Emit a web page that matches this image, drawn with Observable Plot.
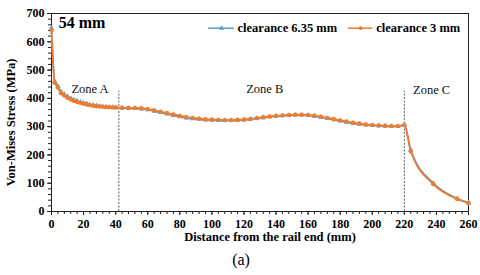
<!DOCTYPE html>
<html>
<head>
<meta charset="utf-8">
<script src="https://cdn.jsdelivr.net/npm/d3@7"></script>
<script src="https://cdn.jsdelivr.net/npm/@observablehq/plot@0.6"></script>
<style>
  html, body { margin: 0; padding: 0; background: #fff; }
  #chart { width: 480px; height: 275px; }
  #chart svg, #chart svg text { font-family: "Liberation Serif", "Times New Roman", serif !important; }
</style>
</head>
<body>
<div id="chart"></div>
<script>
// ---- data ----
const distance = [0, 2, 4, 6, 8, 10, 12, 14, 16, 18, 20, 22, 24, 26, 28, 30, 32, 34, 36, 38, 40,
  44, 48, 52, 56, 60, 64, 68, 72, 76, 80, 84, 88, 92, 96, 100, 104, 108, 112, 116, 120,
  124, 128, 132, 136, 140, 144, 148, 152, 156, 160, 164, 168, 172, 176, 180, 184, 188, 192,
  196, 200, 204, 208, 212, 216, 220, 224, 238, 253, 260];
const stress3 = [640, 455, 438, 418, 410, 402, 396, 391, 387, 384, 381, 378, 376, 374, 372, 371, 370, 369, 369, 368, 368,
  367, 366, 366, 365, 362, 358, 353, 348, 343, 338, 334, 331, 328, 326, 325, 324, 323, 323, 324, 325,
  327, 330, 333, 336, 338, 340, 341, 342, 342, 341, 339, 335, 331, 327, 322, 318, 314, 311,
  308, 306, 304, 303, 302, 302, 305, 213, 97, 44, 30];
const stress635 = [648, 460, 443, 423, 414, 406, 400, 395, 391, 387, 384, 381, 378, 376, 374, 372, 371, 370, 369, 368, 367,
  366, 365, 364, 363, 360, 355, 350, 345, 340, 335, 331, 328, 326, 324, 323, 322, 322, 322, 323, 324,
  326, 329, 332, 335, 337, 339, 340, 341, 341, 340, 337, 333, 329, 325, 320, 316, 312, 309,
  306, 304, 303, 302, 301, 301, 306, 218, 100, 46, 31];
const seriesNames = ["clearance 6.35 mm", "clearance 3 mm"];
const zoneNames = ["Zone A", "Zone B", "Zone C"];
const zoneBounds = [42, 220];
const xTicks = d3.range(0, 261, 20);
const yTicks = d3.range(0, 701, 100);
const panelLabel = "54 mm";
const xLabel = "Distance from the rail end (mm)";
const yLabel = "Von-Mises Stress (MPa)";
const caption = "(a)";

// ---- build ----
const blue = "#5B9BD5", orange = "#ED7D31";
const serif = "Liberation Serif";
const rows635 = distance.map((d, i) => ({x: d, y: stress635[i]}));
const rows3 = distance.map((d, i) => ({x: d, y: stress3[i]}));
const zonePos = [{x: 24, y: 432}, {x: 133, y: 432}, {x: 237, y: 430}];
const zones = zoneNames.map((n, i) => ({name: n, ...zonePos[i]}));
const legendY = 648;
const legend = [
  {name: seriesNames[0], x1: 98, x2: 114, color: blue, symbol: "triangle"},
  {name: seriesNames[1], x1: 185, x2: 200.5, color: orange, symbol: "circle"}
];

const chart = Plot.plot({
  width: 480,
  height: 275,
  marginLeft: 51,
  marginRight: 12,
  marginTop: 13,
  marginBottom: 64,
  style: {fontFamily: serif, background: "#fff", color: "#000"},
  x: {domain: [0, 260]},
  y: {domain: [0, 700]},
  marks: [
    Plot.frame({stroke: "#222", strokeWidth: 1}),
    Plot.axisX({ticks: d3.range(0, 261, 4), tickSize: 3, text: null, label: null, stroke: "#222"}),
    Plot.axisX({ticks: xTicks, tickSize: 4, tickPadding: 4, fontWeight: "bold", fontSize: 12, stroke: "#222", label: null}),
    Plot.axisY({ticks: d3.range(0, 701, 20), tickSize: 3, text: null, label: null, stroke: "#222"}),
    Plot.axisY({ticks: yTicks, tickSize: 4, tickPadding: 3, fontWeight: "bold", fontSize: 12, stroke: "#222", label: null}),
    Plot.ruleX(zoneBounds, {y1: 0, y2: 425, stroke: "#333", strokeWidth: 0.8, strokeDasharray: "2,1.5"}),
    Plot.line(rows635, {x: "x", y: "y", stroke: blue, strokeWidth: 1.8, curve: "monotone-x"}),
    Plot.dot(rows635, {x: "x", y: "y", fill: blue, symbol: "triangle", r: 2}),
    Plot.line(rows3, {x: "x", y: "y", stroke: orange, strokeWidth: 1.8, curve: "monotone-x"}),
    Plot.dot(rows3, {x: "x", y: "y", fill: orange, symbol: "circle", r: 2.2}),
    Plot.text(zones, {x: "x", y: "y", text: "name", fontSize: 12.5, fill: "#111", fontFamily: serif}),
    Plot.text([panelLabel], {x: 4.5, y: 666, text: d => d, textAnchor: "start", fontSize: 16, fontWeight: "bold", fill: "#000", fontFamily: serif}),
    Plot.ruleY(legend, {x1: "x1", x2: "x2", y: legendY, stroke: "color", strokeWidth: 1.5}),
    Plot.dot(legend, {x: d => (d.x1 + d.x2) / 2, y: legendY, fill: "color", symbol: "symbol", r: 1.9}),
    Plot.text(legend, {x: d => d.x2 + 2, y: legendY, text: "name", textAnchor: "start", fontSize: 12.5, fontWeight: "bold", fill: "#000", fontFamily: serif}),
    Plot.text([xLabel], {frameAnchor: "bottom", dx: 10, dy: 29, text: d => d, fontSize: 12.5, fontWeight: "bold", fill: "#000", fontFamily: serif}),
    Plot.text([yLabel], {x: -25, y: 315, rotate: -90, text: d => d, fontSize: 12.5, fontWeight: "bold", fill: "#000", fontFamily: serif}),
    Plot.text([caption], {frameAnchor: "bottom", dx: -19, dy: 53, text: d => d, fontSize: 16, fill: "#000", fontFamily: serif})
  ]
});
document.getElementById("chart").appendChild(chart);
</script>
</body>
</html>
